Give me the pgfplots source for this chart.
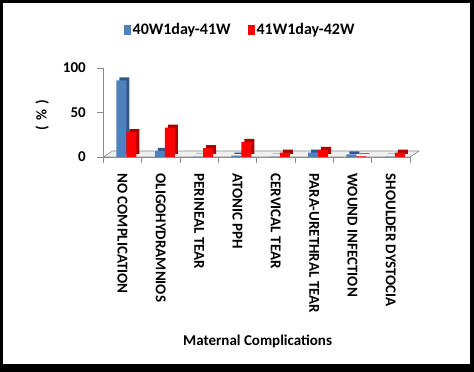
\documentclass[border=0pt]{standalone}
\usepackage{pgfplots}
\pgfplotsset{compat=1.18}
\usepackage{fontspec}
\setmainfont{Carlito}
\definecolor{eblue}{RGB}{79,129,189}
\definecolor{eblued}{RGB}{50,88,140}
\definecolor{ered}{RGB}{255,0,0}
\definecolor{eredd}{RGB}{170,0,0}
\definecolor{axgray}{RGB}{140,140,140}
\pgfplotstableread{
x blue red
0 86 28
1 7 33
2 0.5 10
3 1.5 17
4 0.5 5
5 5 8
6 3 0.6
7 0.5 5
}\datatab
\begin{document}
\begin{tikzpicture}
\useasboundingbox (0,0) rectangle (474bp,372bp);
\fill[black] (0,0) rectangle (474bp,372bp);
\fill[white] (3bp,8bp) rectangle (470bp,369bp);
\begin{axis}[
  at={(103.3bp,215bp)}, anchor=south west,
  scale only axis, width=306.7bp, height=89bp,
  xmin=-0.5, xmax=7.5, ymin=0, ymax=100,
  axis x line*=bottom, axis y line*=left,
  axis line style={axgray, line width=0.8bp},
  ytick={0,50,100},
  xtick={0,...,7},
  xticklabels={NO COMPLICATION, OLIGOHYDRAMNIOS, PERINEAL TEAR, ATONIC PPH, CERVICAL TEAR, PARA-URETHRAL TEAR, WOUND INFECTION, SHOULDER DYSTOCIA},
  minor xtick={-0.5,0.5,...,7.5},
  major x tick style={draw=none},
  tick align=outside,
  tick style={axgray, line width=0.8bp},
  major tick length=6bp, minor tick length=6bp,
  /pgf/number format/assume math mode=true,
  y tick label style={font=\bfseries\fontsize{15bp}{17bp}\selectfont, xshift=-8bp},
  x tick label style={font=\bfseries\fontsize{15bp}{17bp}\selectfont, rotate=-90, anchor=west, xshift=7bp},
  xlabel={Maternal Complications},
  ylabel={(\,\,\%\,\,)},
  label style={font=\bfseries\fontsize{15bp}{18bp}\selectfont},
  xlabel style={at={(axis description cs:0.503,-2.07)}, anchor=center},
  ylabel style={at={(axis description cs:-0.199,0.47)}, anchor=center},
  legend columns=2,
  legend style={draw=none, fill=none, at={(0.446,1.43)}, anchor=center,
    font=\bfseries\fontsize{16bp}{18bp}\selectfont,
    /tikz/every even column/.append style={column sep=16bp},
    nodes={inner sep=1.5bp}},
  clip=false,
]
% floor
\fill[gray!12, draw=axgray, line width=0.6bp] (rel axis cs:0,0) -- (rel axis cs:1,0) -- ([shift={(9bp,6bp)}]rel axis cs:1,0) -- ([shift={(9bp,6bp)}]rel axis cs:0,0) -- cycle;
% 3D side copies
\addplot[ybar, bar width=10bp, bar shift=2bp, yshift=3bp, fill=eblued, draw=none, forget plot] table[x=x, y=blue] {\datatab};
\addplot[ybar, bar width=10bp, bar shift=-1bp, fill=eblue, draw=none,
  legend image code/.code={\fill[eblue] (0bp,-5bp) rectangle (7bp,5bp);}] table[x=x, y=blue] {\datatab};
\addplot[ybar, bar width=10bp, bar shift=12bp, yshift=3bp, fill=eredd, draw=none, forget plot] table[x=x, y=red] {\datatab};
\addplot[ybar, bar width=10bp, bar shift=9bp, fill=ered, draw=none,
  legend image code/.code={\fill[ered] (0bp,-5bp) rectangle (7bp,5bp);}] table[x=x, y=red] {\datatab};
\legend{40W1day-41W, 41W1day-42W}
\end{axis}
\end{tikzpicture}
\end{document}
